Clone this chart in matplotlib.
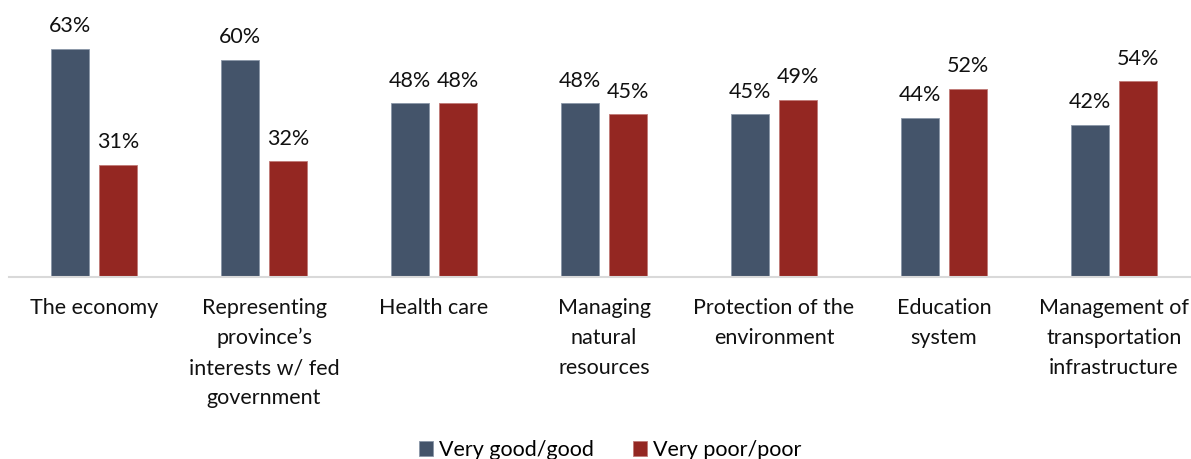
import matplotlib.pyplot as plt
import numpy as np

plt.rcParams['font.family'] = ['Lato', 'DejaVu Sans']

categories = ['The economy',
              'Representing\nprovince\u2019s\ninterests w/ fed\ngovernment',
              'Health care',
              'Managing\nnatural\nresources',
              'Protection of the\nenvironment',
              'Education\nsystem',
              'Management of\ntransportation\ninfrastructure']
good = [63, 60, 48, 48, 45, 44, 42]
poor = [31, 32, 48, 45, 49, 52, 54]
series_names = ['Very good/good', 'Very poor/poor']
colors = ['#44546A', '#942722']


def draw_chart(path):
    fig = plt.figure(figsize=(11.91, 4.59), dpi=100)
    ax = fig.add_axes([9 / 1191, 182 / 459, 1190 / 1191, 277 / 459])

    x = np.arange(len(categories))
    w = 0.224
    off = 0.141
    b1 = ax.bar(x - off, good, w, color=colors[0], label=series_names[0],
                edgecolor='#8a96a8', linewidth=0.6)
    b2 = ax.bar(x + off, poor, w, color=colors[1], label=series_names[1],
                edgecolor='#c07a76', linewidth=0.6)

    for bars in (b1, b2):
        for b in bars:
            ax.annotate('%d%%' % b.get_height(),
                        (b.get_x() + b.get_width() / 2, b.get_height()),
                        xytext=(0, 9), textcoords='offset points',
                        ha='center', va='bottom', fontsize=15.5, color='#111111')

    ax.set_xlim(-0.5, len(categories) - 0.5)
    ax.set_ylim(0, 76.5)
    ax.set_xticks(x)
    ax.set_xticklabels(categories, fontsize=15.5, linespacing=1.62, color='#111111')
    ax.tick_params(axis='x', length=0, pad=15)
    ax.set_yticks([])
    for s in ['top', 'right', 'left']:
        ax.spines[s].set_visible(False)
    ax.spines['bottom'].set_color('#D9D9D9')
    ax.spines['bottom'].set_linewidth(1.5)

    fig.legend(loc='center', bbox_to_anchor=(610 / 1191, 1 - 450 / 459), ncol=2,
               frameon=False, fontsize=15.5, handlelength=0.65, handleheight=0.65,
               handletextpad=0.3, columnspacing=1.8)

    fig.savefig(path, dpi=100)


def main():
    draw_chart('out.png')


if __name__ == '__main__':
    main()
